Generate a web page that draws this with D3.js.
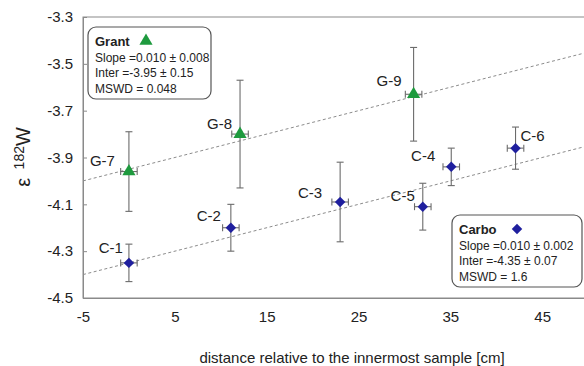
<!DOCTYPE html>
<html>
<head>
<meta charset="utf-8">
<script src="https://cdn.jsdelivr.net/npm/d3@7"></script>
<style>
  html, body { margin: 0; padding: 0; background: #fff; }
  svg { display: block; font-family: "Liberation Sans", Arial, sans-serif; }
</style>
</head>
<body>
<svg id="chart" width="584" height="366"></svg>
<script>
// ---- data ----
const carboLabels = ["C-1", "C-2", "C-3", "C-4", "C-5", "C-6"];
const carboX = [0, 11.1, 23, 35.1, 32, 42.1];
const carboY = [-4.35, -4.20, -4.09, -3.94, -4.11, -3.86];
const carboErr = [0.08, 0.10, 0.17, 0.08, 0.10, 0.09];

const grantLabels = ["G-7", "G-8", "G-9"];
const grantX = [0, 12.1, 31];
const grantY = [-3.96, -3.80, -3.63];
const grantErr = [0.17, 0.23, 0.20];

const xErr = 0.9;

const carboFit = { slope: 0.010, inter: -4.35 };
const grantFit = { slope: 0.010, inter: -3.95 };

const xTicks = [-5, 5, 15, 25, 35, 45];
const yTicks = [-3.3, -3.5, -3.7, -3.9, -4.1, -4.3, -4.5];

const carboLegend = ["Carbo", "Slope =0.010 \u00b1 0.002", "Inter =-4.35 \u00b1 0.07", "MSWD = 1.6"];
const grantLegend = ["Grant", "Slope =0.010 \u00b1 0.008", "Inter =-3.95 \u00b1 0.15", "MSWD = 0.048"];

// ---- layout (styles/positions) ----
const carboLabelPos = [[-6, -10, "end"], [-10, -7, "end"], [-18, -4, "end"], [-16, -6, "end"], [-8, -6, "end"], [5, -7, "start"]];
const grantLabelPos = [[-14, -6, "end"], [-8, -5, "end"], [-12, -8, "end"]];

const blue = "#1f1f9e";
const green = "#1e9a3e";
const barColor = "#6b6b6b";
const axisColor = "#8a8a8a";

const svg = d3.select("#chart");
const x = d3.scaleLinear().domain([-5, 55]).range([83, 634]);
const y = d3.scaleLinear().domain([-4.5, -3.3]).range([298, 17]);

const hy = s => s.replace("\u2212", "-");

// plot border
svg.append("rect")
  .attr("x", x(-5)).attr("y", y(-3.3))
  .attr("width", x(55) - x(-5)).attr("height", y(-4.5) - y(-3.3))
  .attr("fill", "none").attr("stroke", axisColor).attr("stroke-width", 1);

// y axis ticks (inside) + labels
const yAxis = d3.axisLeft(y).tickValues(yTicks).tickSizeInner(-4).tickSizeOuter(0)
  .tickFormat(d => hy(d3.format(".1f")(d))).tickPadding(10);
const yg = svg.append("g").attr("transform", `translate(${x(-5)},0)`).call(yAxis);
yg.select(".domain").attr("stroke", axisColor);
yg.selectAll(".tick line").attr("stroke", axisColor);
yg.selectAll(".tick text").attr("font-size", 15).attr("fill", "#222")
  .attr("font-family", "Liberation Sans, Arial, sans-serif");

// x axis labels
const xAxis = d3.axisBottom(x).tickValues(xTicks).tickSize(0).tickPadding(13)
  .tickFormat(d => hy(d3.format("d")(d)));
const xg = svg.append("g").attr("transform", `translate(0,${y(-4.5)})`).call(xAxis);
xg.select(".domain").attr("stroke", axisColor);
xg.selectAll(".tick text").attr("font-size", 15).attr("fill", "#222")
  .attr("font-family", "Liberation Sans, Arial, sans-serif");

// axis titles
svg.append("text")
  .attr("x", 352).attr("y", 363)
  .attr("text-anchor", "middle").attr("font-size", 15).attr("fill", "#222")
  .text("distance relative to the innermost sample [cm]");

const yt = svg.append("text")
  .attr("transform", "translate(30,157) rotate(-90)")
  .attr("text-anchor", "middle").attr("font-size", 20).attr("fill", "#222");
yt.append("tspan").text("\u03b5 ");
yt.append("tspan").attr("font-size", 14).attr("dy", -6).attr("dx", 3).text("182");
yt.append("tspan").attr("dy", 6).text("W");

// fit lines
const line = d3.line().x(d => x(d[0])).y(d => y(d[1]));
[grantFit, carboFit].forEach(f => {
  svg.append("path")
    .datum([[-5, f.inter + f.slope * -5], [55, f.inter + f.slope * 55]])
    .attr("d", line)
    .attr("fill", "none").attr("stroke", "#8c8c8c").attr("stroke-width", 1)
    .attr("stroke-dasharray", "3,2.5");
});

function markPath(shape) {
  return shape === "triangle"
    ? d3.symbol().type(d3.symbolTriangle).size(75)()
    : d3.symbol().type(d3.symbolSquare).size(55)();
}
function markRot(shape) { return shape === "triangle" ? "" : " rotate(45)"; }

function drawSeries(xs, ys, errs, labels, labelPos, shape, color) {
  const data = xs.map((v, i) => ({ x: v, y: ys[i], e: errs[i], label: labels[i], lp: labelPos[i] }));
  const g = svg.append("g");
  const cap = 3.5;
  data.forEach(d => {
    const px = x(d.x), py = y(d.y);
    const top = y(d.y + d.e), bot = y(d.y - d.e);
    const l = x(d.x - xErr), r = x(d.x + xErr);
    const segs = [
      [px, top, px, bot], [px - cap, top, px + cap, top], [px - cap, bot, px + cap, bot],
      [l, py, r, py], [l, py - cap, l, py + cap], [r, py - cap, r, py + cap]
    ];
    segs.forEach(s => g.append("line")
      .attr("x1", s[0]).attr("y1", s[1]).attr("x2", s[2]).attr("y2", s[3])
      .attr("stroke", barColor).attr("stroke-width", 1.1));
  });
  g.selectAll("path.mark").data(data).enter().append("path")
    .attr("class", "mark")
    .attr("transform", d => `translate(${x(d.x)},${y(d.y)})` + markRot(shape))
    .attr("d", markPath(shape))
    .attr("fill", color);
  g.selectAll("text.lbl").data(data).enter().append("text")
    .attr("class", "lbl")
    .attr("x", d => x(d.x) + d.lp[0]).attr("y", d => y(d.y) + d.lp[1])
    .attr("text-anchor", d => d.lp[2])
    .attr("font-size", 15).attr("fill", "#222")
    .text(d => d.label);
}

drawSeries(grantX, grantY, grantErr, grantLabels, grantLabelPos, "triangle", green);
drawSeries(carboX, carboY, carboErr, carboLabels, carboLabelPos, "diamond", blue);

// legend boxes
function legendBox(bx, by, bw, bh, lines, shape, color, markerX) {
  const g = svg.append("g");
  g.append("rect").attr("x", bx).attr("y", by).attr("width", bw).attr("height", bh)
    .attr("rx", 8).attr("ry", 8).attr("fill", "#fff").attr("stroke", "#555").attr("stroke-width", 1.2);
  lines.forEach((t, i) => {
    g.append("text")
      .attr("x", bx + 7).attr("y", by + 19 + i * 15.5)
      .attr("font-size", i === 0 ? 13 : 12)
      .attr("font-weight", i === 0 ? "bold" : "normal")
      .attr("fill", "#222").text(t);
  });
  g.append("path")
    .attr("transform", `translate(${markerX},${by + 14})` + markRot(shape))
    .attr("d", markPath(shape))
    .attr("fill", color);
}
legendBox(88, 27, 123, 72, grantLegend, "triangle", green, 146);
legendBox(452, 215, 130, 72, carboLegend, "diamond", blue, 517);
</script>
</body>
</html>
